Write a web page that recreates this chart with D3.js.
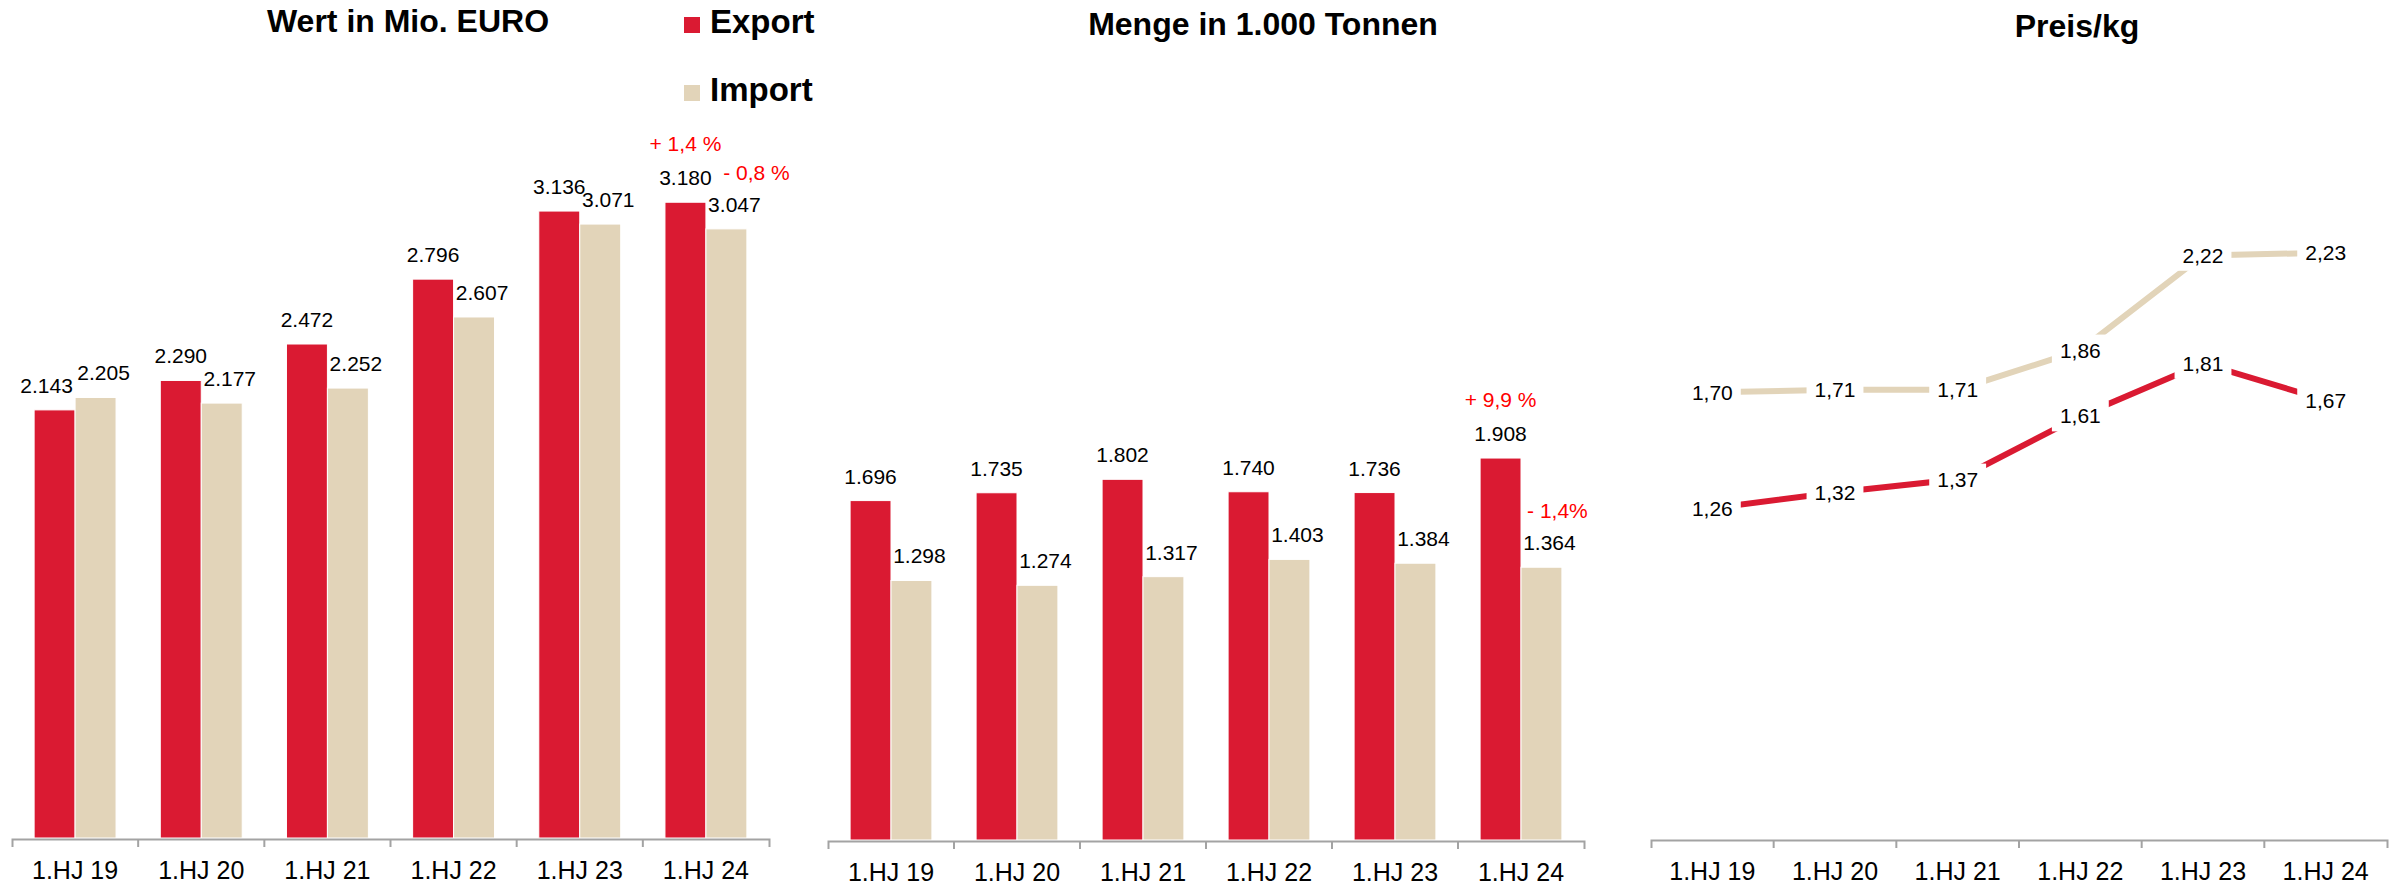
<!DOCTYPE html>
<html>
<head>
<meta charset="utf-8">
<script src="https://cdn.jsdelivr.net/npm/d3@7"></script>
<style>
  body { margin: 0; background: #fff; }
  svg { display: block; font-family: "Liberation Sans", Arial, sans-serif; }
</style>
</head>
<body>
<svg id="chart" width="2399" height="886"></svg>
<script>
// --- data ---
const categories = ['1.HJ 19', '1.HJ 20', '1.HJ 21', '1.HJ 22', '1.HJ 23', '1.HJ 24'];
const seriesNames = ['Export', 'Import'];

const valueExport = [2143, 2290, 2472, 2796, 3136, 3180];
const valueImport = [2205, 2177, 2252, 2607, 3071, 3047];
const valueChange = ['+ 1,4 %', '- 0,8 %'];

const volumeExport = [1696, 1735, 1802, 1740, 1736, 1908];
const volumeImport = [1298, 1274, 1317, 1403, 1384, 1364];
const volumeChange = ['+ 9,9 %', '- 1,4%'];

const priceExport = [1.26, 1.32, 1.37, 1.61, 1.81, 1.67];
const priceImport = [1.70, 1.71, 1.71, 1.86, 2.22, 2.23];

// --- styles ---
const RED = '#da1a32';
const BEIGE = '#e2d4b9';
const AXIS = '#a3a3a3';
const colors = { Export: RED, Import: BEIGE };

const de = d3.formatLocale({ decimal: ',', thousands: '.', grouping: [3], currency: ['', ' €'] });
const fmtInt = de.format(',d');
const fmtPrice = de.format(',.2f');

const svg = d3.select('#chart');

function drawAxis(x, axisY) {
  const axis = d3.axisBottom(x).tickSizeInner(0).tickSizeOuter(8).tickPadding(22);
  const ag = svg.append('g')
    .attr('transform', `translate(0,${axisY})`)
    .call(axis)
    .attr('font-family', null)
    .attr('font-size', 25);
  ag.select('.domain').attr('stroke', AXIS).attr('stroke-width', 2);
  ag.selectAll('.tick text').attr('fill', '#000');
  // separators between categories
  ag.selectAll('.sep')
    .data(x.domain().slice(1))
    .enter().append('line')
    .attr('x1', d => x(d)).attr('x2', d => x(d))
    .attr('y1', 0).attr('y2', 8)
    .attr('stroke', AXIS).attr('stroke-width', 2);
}

function drawTitle(text, cx, baseline) {
  svg.append('text')
    .attr('x', cx).attr('y', baseline)
    .attr('text-anchor', 'middle')
    .attr('font-size', 32)
    .attr('font-weight', 'bold')
    .text(text);
}

function barPanel(opts) {
  const { left, right, axisY, exp, imp, change, importChangeDx, firstExportDx } = opts;

  const x0 = d3.scaleBand().domain(categories).range([left, right]);
  const x1 = d3.scaleBand().domain(seriesNames)
    .range([0, x0.bandwidth()])
    .paddingInner(0).paddingOuter(0.54);
  const y = d3.scaleLinear().domain([0, 4190]).range([axisY, 0]);

  const rows = categories.map((c, i) => ({
    cat: c, i,
    values: [{ s: 'Export', v: exp[i] }, { s: 'Import', v: imp[i] }]
  }));

  const g = svg.append('g');
  const groups = g.selectAll('.grp').data(rows).enter().append('g')
    .attr('transform', d => `translate(${x0(d.cat)},0)`);

  groups.selectAll('rect')
    .data(d => d.values)
    .enter().append('rect')
    .attr('x', d => x1(d.s))
    .attr('width', x1.bandwidth())
    .attr('y', d => y(d.v))
    .attr('height', d => axisY - 1 - y(d.v))
    .attr('fill', d => colors[d.s])
    .attr('stroke', '#fff')
    .attr('stroke-width', 1);

  groups.selectAll('.lbl')
    .data(d => d.values.map(v => ({ ...v, i: d.i })))
    .enter().append('text')
    .attr('x', d => {
      const cx = x1(d.s) + x1.bandwidth() / 2;
      if (d.s === 'Import') return cx + 8;
      return d.i === 0 ? cx + firstExportDx : cx;
    })
    .attr('y', d => y(d.v) - 17)
    .attr('text-anchor', 'middle')
    .attr('font-size', 21)
    .text(d => fmtInt(d.v));

  // change vs previous year, above last category
  const last = categories.length - 1;
  const lx = x0(categories[last]);
  g.append('text')
    .attr('x', lx + x1('Export') + x1.bandwidth() / 2)
    .attr('y', y(exp[last]) - 17 - 34)
    .attr('text-anchor', 'middle')
    .attr('font-size', 21)
    .attr('fill', '#ff0000')
    .text(change[0]);
  g.append('text')
    .attr('x', lx + x1('Import') + x1.bandwidth() / 2 + importChangeDx)
    .attr('y', y(imp[last]) - 17 - 32)
    .attr('text-anchor', 'middle')
    .attr('font-size', 21)
    .attr('fill', '#ff0000')
    .text(change[1]);

  drawAxis(x0, axisY);
}

function linePanel(opts) {
  const { left, right, axisY } = opts;
  const x0 = d3.scaleBand().domain(categories).range([left, right]);
  const y = d3.scaleLinear().domain([0, 3.19]).range([axisY, 0]);
  const cx = c => x0(c) + x0.bandwidth() / 2;

  const series = [
    { s: 'Import', values: priceImport },
    { s: 'Export', values: priceExport }
  ];

  const line = d3.line()
    .x((d, i) => cx(categories[i]))
    .y(d => y(d));

  svg.append('g').selectAll('path')
    .data(series)
    .enter().append('path')
    .attr('d', d => line(d.values))
    .attr('fill', 'none')
    .attr('stroke', d => colors[d.s])
    .attr('stroke-width', 6);

  const pts = series.flatMap(d => d.values.map((v, i) => ({ v, c: categories[i] })));
  const lg = svg.append('g');
  const labels = lg.selectAll('g').data(pts).enter().append('g');
  labels.append('rect').attr('fill', '#fff');
  labels.append('text')
    .attr('x', d => cx(d.c))
    .attr('y', d => y(d.v))
    .attr('dy', '0.35em')
    .attr('text-anchor', 'middle')
    .attr('font-size', 21)
    .text(d => fmtPrice(d.v));
  labels.each(function () {
    const bb = d3.select(this).select('text').node().getBBox();
    d3.select(this).select('rect')
      .attr('x', bb.x - 8).attr('y', bb.y - 4)
      .attr('width', bb.width + 16).attr('height', bb.height + 8);
  });

  drawAxis(x0, axisY);
}

barPanel({
  left: 12, right: 769, axisY: 839,
  exp: valueExport, imp: valueImport, change: valueChange,
  importChangeDx: 30, firstExportDx: -8
});
barPanel({
  left: 828, right: 1584, axisY: 841,
  exp: volumeExport, imp: volumeImport, change: volumeChange,
  importChangeDx: 16, firstExportDx: 0
});
linePanel({ left: 1651, right: 2387, axisY: 840 });

drawTitle('Wert in Mio. EURO', 408, 32);
drawTitle('Menge in 1.000 Tonnen', 1263, 35);
drawTitle('Preis/kg', 2077, 37);

// legend
const legend = svg.append('g').selectAll('g')
  .data(seriesNames)
  .enter().append('g')
  .attr('transform', (d, i) => `translate(684,${17 + i * 68})`);
legend.append('rect')
  .attr('width', 16).attr('height', 16)
  .attr('fill', d => colors[d]);
legend.append('text')
  .attr('x', 26).attr('y', 16)
  .attr('font-size', 33)
  .attr('font-weight', 'bold')
  .text(d => d);
</script>
</body>
</html>
